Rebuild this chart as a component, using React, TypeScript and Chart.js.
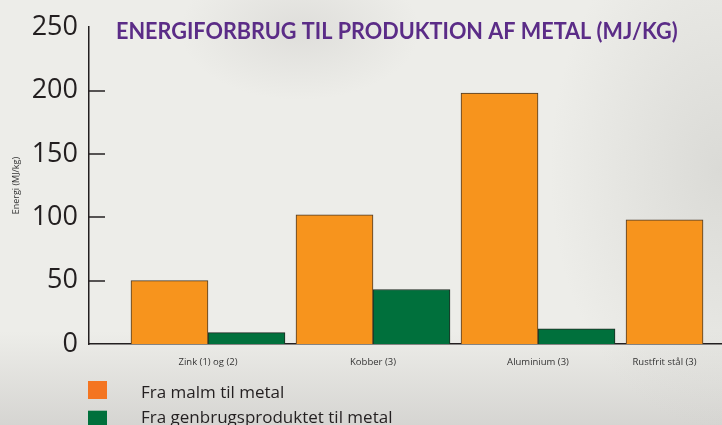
import React, { useEffect, useRef } from 'react';
import { Chart, registerables } from 'chart.js';

Chart.register(...registerables);

// ---- data ----
const categories = ['Zink (1) og (2)', 'Kobber (3)', 'Aluminium (3)', 'Rustfrit stål (3)'];
const seriesNames = ['Fra malm til metal', 'Fra genbrugsproduktet til metal'];
const oreValues: (number | null)[] = [50, 102, 198, 98];
const recycledValues: (number | null)[] = [9, 43, 12, null];
const yTickValues = [0, 50, 100, 150, 200, 250];
const chartTitle = 'ENERGIFORBRUG TIL PRODUKTION AF METAL (MJ/KG)';
const yAxisTitle = 'Energi (MJ/kg)';

// ---- styles ----
const barColors = ['#F7941D', '#00703C'];
const legendColors = ['#F47521', '#00703C'];
const inkColor = '#231f20';

const overlayPlugin = {
  id: 'overlay',
  afterDraw(chart: any) {
    const { ctx, chartArea, scales } = chart;
    const y = scales.y;
    ctx.save();
    // inner tick marks
    ctx.strokeStyle = inkColor;
    ctx.lineWidth = 1.5;
    y.ticks.forEach((t: any) => {
      if (t.value === y.min || t.value === y.max) return;
      const py = Math.round(y.getPixelForValue(t.value));
      ctx.beginPath();
      ctx.moveTo(chartArea.left, py);
      ctx.lineTo(chartArea.left + 16, py);
      ctx.stroke();
    });
    // category labels, centred under the bars drawn for each category
    ctx.font = '9.5px "Open Sans"';
    ctx.fillStyle = '#333333';
    ctx.textAlign = 'center';
    ctx.textBaseline = 'middle';
    categories.forEach((c, i) => {
      const xs: number[] = [];
      chart.data.datasets.forEach((ds: any, di: number) => {
        const p = ds.data[i];
        if (!p || p.y == null) return;
        xs.push(chart.getDatasetMeta(di).data[i].x);
      });
      if (!xs.length) return;
      const cx = xs.reduce((a, b) => a + b, 0) / xs.length;
      ctx.fillText(c, cx, chartArea.bottom + 18);
    });
    // title (slightly condensed, like the original typeface)
    ctx.save();
    ctx.font = 'bold 23px Lato';
    ctx.fillStyle = '#5B2C87';
    ctx.textAlign = 'left';
    ctx.textBaseline = 'alphabetic';
    ctx.translate(chartArea.left + 27, chartArea.top + 12);
    ctx.scale(0.94, 1);
    ctx.fillText(chartTitle, 0, 0);
    ctx.restore();
    // legend
    seriesNames.forEach((name, s) => {
      ctx.fillStyle = legendColors[s];
      ctx.fillRect(chartArea.left - 1, chartArea.bottom + 37 + s * 29.7, 19, 18);
      ctx.fillStyle = inkColor;
      ctx.font = '17px "Open Sans"';
      ctx.textAlign = 'left';
      ctx.textBaseline = 'alphabetic';
      ctx.fillText(name, chartArea.left + 52, chartArea.bottom + 54 + s * 24.5);
    });
    ctx.restore();
  },
};

export default function App() {
  const ref = useRef<HTMLCanvasElement | null>(null);
  useEffect(() => {
    if (!ref.current) return;
    Chart.defaults.font.family = '"Open Sans"';
    const chart = new Chart(ref.current, {
      type: 'bar',
      data: {
        datasets: [
          {
            label: seriesNames[0],
            data: oreValues.map((v, i) => ({ x: i, y: v })) as any,
            backgroundColor: barColors[0],
            borderColor: '#4a3b2b',
            borderWidth: 1,
          },
          {
            label: seriesNames[1],
            data: recycledValues.map((v, i) => ({ x: i, y: v })) as any,
            backgroundColor: barColors[1],
            borderColor: '#1f2a22',
            borderWidth: 1,
          },
        ],
      },
      options: {
        animation: false,
        responsive: false,
        layout: { padding: { top: 23, bottom: 81, left: 0, right: 0 } },
        datasets: { bar: { barThickness: 77 } },
        plugins: { legend: { display: false }, title: { display: false }, tooltip: { enabled: false } },
        scales: {
          x: {
            type: 'linear',
            offset: false,
            bounds: 'data',
            min: -0.721,
            max: 3.115,
            ticks: { display: false, stepSize: 1, includeBounds: false } as any,
            grid: { display: false, drawTicks: false, offset: false },
            border: { display: true, color: inkColor, width: 1.5 },
          },
          y: {
            min: 0,
            max: 250,
            afterBuildTicks: (s: any) => {
              s.ticks = yTickValues.map((v) => ({ value: v }));
            },
            afterFit: (s: any) => {
              s.width = 89;
            },
            ticks: { color: inkColor, font: { size: 27 }, padding: 11 },
            grid: { display: false, drawTicks: false },
            border: { display: true, color: inkColor, width: 1.5 },
            title: { display: true, text: yAxisTitle, color: '#333333', font: { size: 9 }, padding: { top: 11, bottom: 0 } },
          },
        },
      },
      plugins: [overlayPlugin],
    });
    return () => chart.destroy();
  }, []);
  return (
    <div
      style={{
        position: 'fixed',
        left: 0,
        top: 0,
        width: 722,
        height: 425,
        background:
          'radial-gradient(ellipse 120px 70px at 300px 30px, rgba(190,188,186,0.3), rgba(190,188,186,0) 100%),' +
          'radial-gradient(ellipse 170px 260px at 720px 170px, rgba(200,200,196,0.5), rgba(200,200,196,0) 100%),' +
          'linear-gradient(to bottom, rgba(170,168,166,0) 78%, rgba(170,168,166,0.35) 100%),' +
          '#edede9',
      }}
    >
      <canvas ref={ref} width={722} height={425} />
    </div>
  );
}
